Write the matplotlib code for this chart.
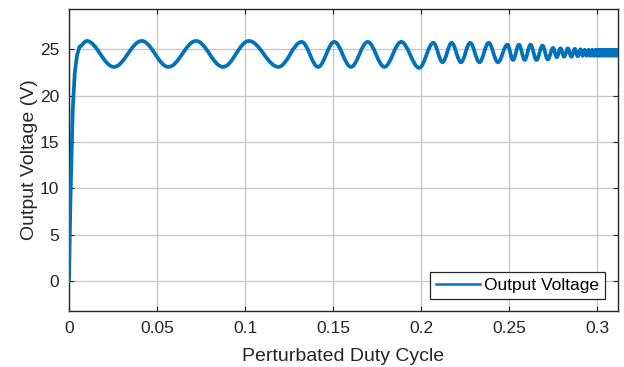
import numpy as np
import matplotlib
matplotlib.use("Agg")
import matplotlib.pyplot as plt
from matplotlib.path import Path
from matplotlib.patches import PathPatch
from matplotlib.lines import Line2D

plt.rcParams['font.family'] = ['Liberation Sans', 'DejaVu Sans']

# start-up transient (duty cycle, volts)
rise_d = [0.0, 0.0008, 0.0021, 0.0033, 0.0045, 0.0060]
rise_v = [0.0, 8.7, 18.5, 22.5, 24.3, 25.3]

# turning points of the output voltage ripple
peak_d = [0.0100, 0.0413, 0.0722, 0.1022, 0.1322, 0.1507, 0.1697, 0.1887,
          0.2070, 0.2174, 0.2279, 0.2384, 0.2490, 0.2556, 0.2622, 0.2690,
          0.2750, 0.2792, 0.2834, 0.2874, 0.2906, 0.2930, 0.2952, 0.2972,
          0.2990, 0.3005, 0.3019, 0.3033, 0.3047, 0.3061, 0.3075, 0.3089,
          0.3103, 0.3117]
peak_v = [25.9, 25.9, 25.9, 25.9, 25.8, 25.8, 25.8, 25.8,
          25.7, 25.7, 25.7, 25.7, 25.5, 25.5, 25.5, 25.4,
          25.15, 25.1, 25.1, 25.05, 25.0, 24.95, 24.95, 24.95,
          24.95, 24.95, 24.95, 24.95, 24.95, 24.95, 24.95, 24.95,
          24.95, 24.95]
trough_d = [0.0255, 0.0565, 0.0875, 0.1190, 0.1415, 0.1602, 0.1792, 0.1990,
            0.2122, 0.2227, 0.2332, 0.2437, 0.2523, 0.2589, 0.2656, 0.2720,
            0.2771, 0.2813, 0.2854, 0.2890, 0.2918, 0.2941, 0.2962, 0.2981,
            0.2998, 0.3012, 0.3026, 0.3040, 0.3054, 0.3068, 0.3082, 0.3096,
            0.3110]
trough_v = [23.1, 23.1, 23.1, 23.1, 23.1, 23.1, 23.1, 23.0,
            23.6, 23.6, 23.6, 23.6, 23.85, 23.85, 23.85, 23.9,
            24.15, 24.2, 24.2, 24.25, 24.3, 24.3, 24.3, 24.3,
            24.3, 24.3, 24.3, 24.3, 24.3, 24.3, 24.3, 24.3,
            24.3]

x_ticks = [0, 0.05, 0.1, 0.15, 0.2, 0.25, 0.3]
x_ticklabels = ['0', '0.05', '0.1', '0.15', '0.2', '0.25', '0.3']
y_ticks = [0, 5, 10, 15, 20, 25]

blue = '#0072BD'
ink = '#262626'

# ripple knots in order along the duty axis
knots = sorted(zip(peak_d + trough_d, peak_v + trough_v))

verts = list(zip(rise_d, rise_v))
codes = [Path.MOVETO] + [Path.LINETO] * (len(rise_d) - 1)
k = 1 - 2 / np.pi  # cubic handle length that follows a half cosine
x0, y0 = verts[-1]
for x1, y1 in knots:
    dx = x1 - x0
    verts += [(x0 + k * dx, y0), (x1 - k * dx, y1), (x1, y1)]
    codes += [Path.CURVE4] * 3
    x0, y0 = x1, y1

fig = plt.figure(figsize=(6.24, 3.67), dpi=100)
ax = fig.add_axes([0.1106, 0.1526, 0.8798, 0.8229])

ax.add_patch(PathPatch(Path(verts, codes), facecolor='none', edgecolor=blue,
                       lw=2.7, capstyle='round', joinstyle='round', zorder=3))

ax.set_xlim(0, 0.3119)
ax.set_ylim(-3.24, 29.35)
ax.set_xticks(x_ticks)
ax.set_xticklabels(x_ticklabels)
ax.set_yticks(y_ticks)

ax.grid(True, color='#c6c6c6', lw=0.9)
ax.set_axisbelow(True)
for s in ax.spines.values():
    s.set_color(ink)
    s.set_linewidth(1.0)
ax.tick_params(direction='in', length=3.5, width=0.8, color=ink,
               top=True, right=True, labelsize=12.5, labelcolor=ink, pad=7)

ax.set_xlabel('Perturbated Duty Cycle', fontsize=14, color=ink, labelpad=9)
ax.set_ylabel('Output Voltage (V)', fontsize=14, color=ink, labelpad=1)

handle = Line2D([], [], color=blue, lw=1.8)
leg = ax.legend([handle], ['Output Voltage'], loc='lower right', fontsize=12.5,
                fancybox=False, framealpha=1, edgecolor=ink,
                handlelength=2.55, borderpad=0.35, handletextpad=0.25,
                bbox_to_anchor=(0.993, 0.01))
leg.get_frame().set_linewidth(0.9)

fig.savefig('out.png', dpi=100)
